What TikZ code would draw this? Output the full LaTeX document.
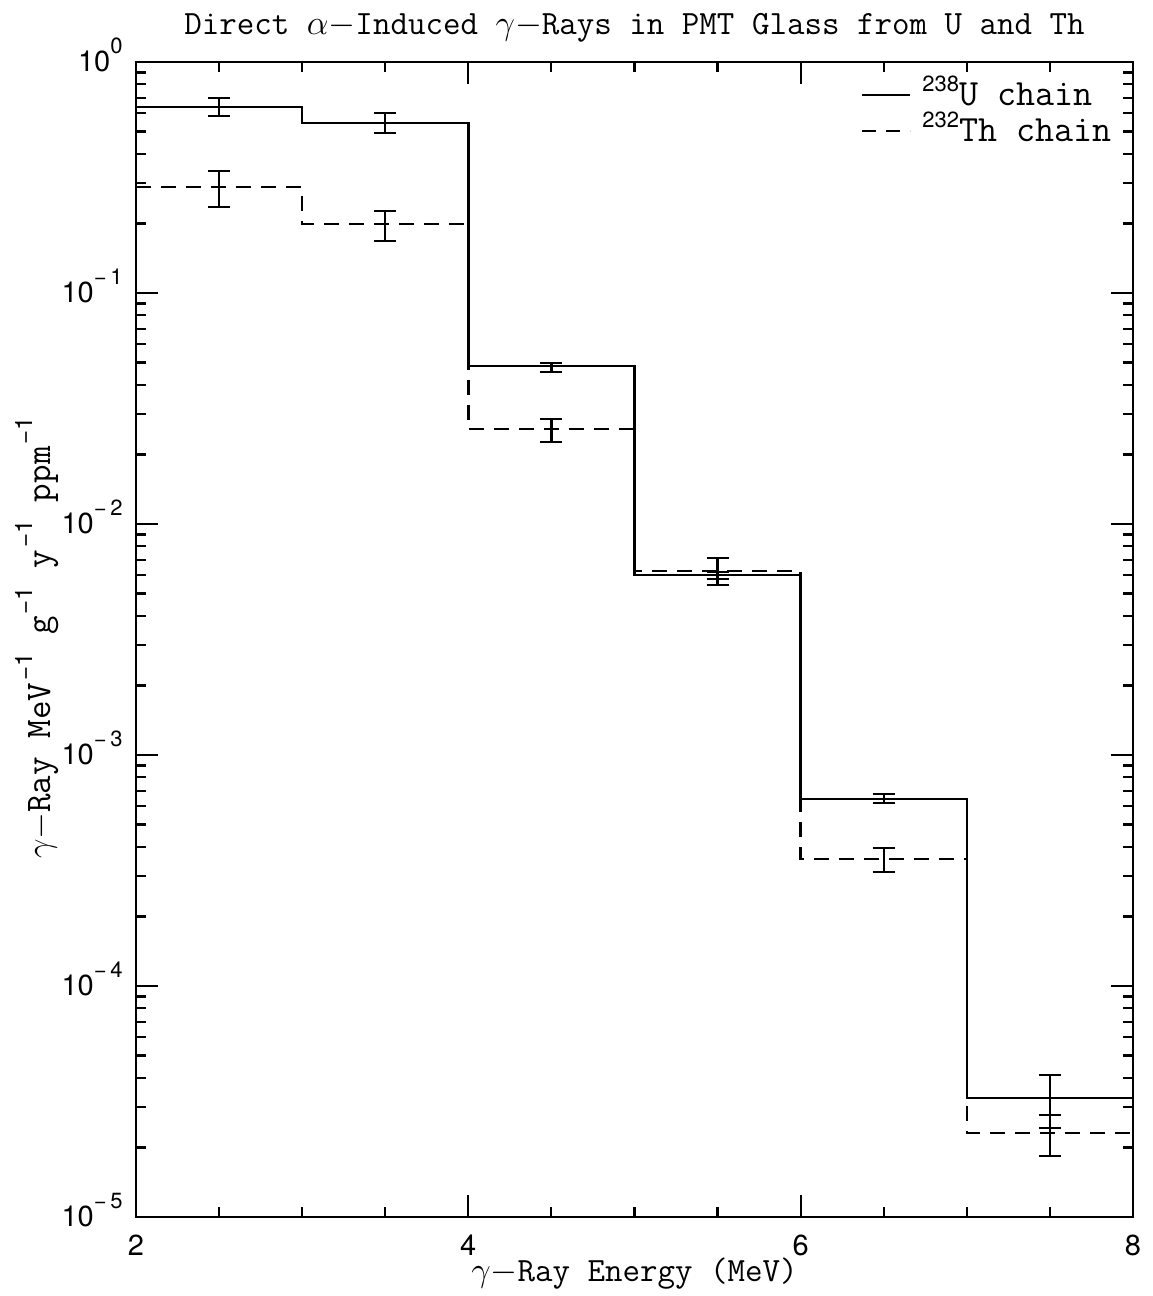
\documentclass[tikz,border=0pt]{standalone}
\usepackage{fontspec}
\setsansfont{TeX Gyre Heros}
\usetikzlibrary{positioning}
\tikzset{frame/.style={line width=1.4pt}}
\tikzset{tickline/.style={line width=1.1pt}}
\tikzset{ulin/.style={line width=1.2pt}}
\tikzset{thlin/.style={line width=1.2pt,dash pattern=on 7.5pt off 5pt}}
\tikzset{errbar/.style={line width=1.2pt}}
\tikzset{
  ticklab/.style={
    font=\sffamily\fontsize{14.5}{16}\selectfont,
    inner sep=0
  }
}
\tikzset{
  axlab/.style={
    font=\ttfamily\fontsize{17}{20}\selectfont,
    inner sep=0
  }
}
\tikzset{
  keylab/.style={
    font=\ttfamily\fontsize{18.5}{22}\selectfont,
    inner sep=0
  }
}
\newcommand{\labexp}[1]{\kern1pt\raisebox{9pt}{\sffamily\fontsize{12}{13}\selectfont #1}}
\newcommand{\decexp}[1]{\raisebox{9pt}{\sffamily\fontsize{11}{12}\selectfont #1}}
\newcommand{\keyexp}[1]{\raisebox{7pt}{\sffamily\fontsize{11}{12}\selectfont #1}}
\newcommand{\ebar}[3]{%
  \draw[errbar] (#1,#2) -- (#1,#3)
    (#1,#2) ++(-5.5pt,0) -- ++(11pt,0)
    (#1,#3) ++(-5.5pt,0) -- ++(11pt,0);}

\begin{document}
\begin{tikzpicture}
\useasboundingbox (0,0) rectangle (576pt,648pt);

\node[axlab,anchor=base] (title) at (317.25pt,630.5pt)
  {Direct $\alpha-$Induced $\gamma-$Rays in PMT Glass from U and Th};
\node[axlab,anchor=base] (xlab) at (317.25pt,7pt) {$\gamma-$Ray Energy (MeV)};
\node[axlab,font=\ttfamily\fontsize{18}{20}\selectfont,anchor=base,rotate=90] (ylab) at (25pt,329pt)
  {$\gamma-$Ray MeV\labexp{−1} g\labexp{−1} y\labexp{−1} ppm\labexp{−1}};

\begin{scope}[x=83.08pt,y=115.5pt,shift={(-98.17pt,617pt)}]
% ticks
\foreach \d/\t in {0/0,-1/−\,1,-2/−\,2,-3/−\,3,-4/−\,4,-5/−\,5} {
  \draw[tickline] (2,\d) -- ++(11pt,0) (8,\d) -- ++(-11pt,0);
  \node[ticklab,anchor=base east] (dec\d) at ([xshift=-6.5pt,yshift=-5pt]2,\d) {10\decexp{\t}};
}
\foreach \d in {-1,...,-5}
  \foreach \m in {2,...,9}
    \draw[tickline] (2,{\d+log10(\m)}) -- ++(5pt,0) (8,{\d+log10(\m)}) -- ++(-5pt,0);
\foreach \e in {2.5,3,3.5,4.5,5,5.5,6.5,7,7.5}
  \draw[tickline] (\e,-5) -- ++(0,5pt) (\e,0) -- ++(0,-5pt);
\foreach \e in {4,6}
  \draw[tickline] (\e,-5) -- ++(0,11pt) (\e,0) -- ++(0,-11pt);
\foreach \e in {2,4,6,8}
  \node[ticklab,anchor=north] (en\e) at ([yshift=-9pt]\e,-5) {\e};
\draw[frame] (2,-5) rectangle (8,0);

% 238U chain
\draw[ulin] (2,-0.195) -- (3,-0.195) -- (3,-0.264) -- (4,-0.264) -- (4,-1.316)
  -- (5,-1.316) -- (5,-2.221) -- (6,-2.221) -- (6,-3.190) -- (7,-3.190)
  -- (7,-4.485) -- (8,-4.485);
\ebar{2.5}{-0.156}{-0.234}
\ebar{3.5}{-0.221}{-0.307}
\ebar{4.5}{-1.303}{-1.342}
\ebar{5.5}{-2.208}{-2.238}
\ebar{6.5}{-3.169}{-3.208}
\ebar{7.5}{-4.385}{-4.615}

% 232Th chain
\draw[thlin] (2,-0.541) -- (3,-0.541) -- (3,-0.701) -- (4,-0.701) -- (4,-1.589)
  -- (5,-1.589) -- (5,-2.203) -- (6,-2.203) -- (6,-3.450) -- (7,-3.450)
  -- (7,-4.636) -- (8,-4.636);
\ebar{2.5}{-0.472}{-0.628}
\ebar{3.5}{-0.645}{-0.775}
\ebar{4.5}{-1.545}{-1.645}
\ebar{5.5}{-2.147}{-2.264}
\ebar{6.5}{-3.403}{-3.506}
\ebar{7.5}{-4.558}{-4.736}
\end{scope}

% legend
\coordinate (ua) at (431pt,600.5pt);
\coordinate (ub) at (455pt,600.5pt);
\coordinate (tha) at (431pt,582.5pt);
\coordinate (thb) at (455pt,582.5pt);
\draw[ulin] (ua) -- (ub);
\draw[thlin,dash pattern=on 7pt off 5pt] (tha) -- (thb);
\node[keylab,anchor=base west] (ukey) at (461pt,595pt) {\keyexp{238}U chain};
\node[keylab,anchor=base west] (thkey) at (461pt,577pt) {\keyexp{232}Th chain};

\end{tikzpicture}
\end{document}
